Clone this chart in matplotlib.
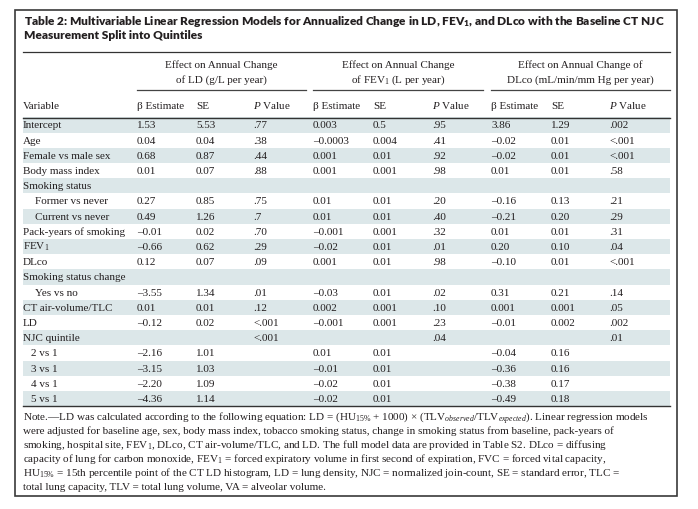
import matplotlib
matplotlib.use("Agg")
import matplotlib.pyplot as plt
from matplotlib.patches import Rectangle

plt.rcParams['mathtext.fontset'] = 'custom'
plt.rcParams['mathtext.rm'] = 'Liberation Serif'
plt.rcParams['mathtext.it'] = 'Liberation Serif:italic'
plt.rcParams['mathtext.bf'] = 'Liberation Serif:bold'
plt.rcParams['mathtext.sf'] = 'Lato:heavy'

# ---------------- data ----------------
title_lines = [r"Table 2: Multivariable Linear Regression Models for Annualized Change in LD, $\mathsf{FEV}_{\mathsf{1}}$, and DLco with the Baseline CT NJC",
               "Measurement Split into Quintiles"]

group_headers = [["Effect on Annual Change", "of LD (g/L per year)"],
                 ["Effect on Annual Change", r"of FEV$_1$ (L per year)"],
                 ["Effect on Annual Change of", "DLco (mL/min/mm Hg per year)"]]

col_headers = ["Variable", "β Estimate", "SE", r"$P$ Value",
               "β Estimate", "SE", r"$P$ Value",
               "β Estimate", "SE", r"$P$ Value"]

variables = ["Intercept", "Age", "Female vs male sex", "Body mass index",
             "Smoking status", "Former vs never", "Current vs never",
             "Pack-years of smoking", r"FEV$_1$", "DLco", "Smoking status change",
             "Yes vs no", "CT air-volume/TLC", "LD", "NJC quintile",
             "2 vs 1", "3 vs 1", "4 vs 1", "5 vs 1"]
indent = [0, 0, 0, 0, 0, 1, 1, 0, 0, 0, 0, 1, 0, 0, 0, 2, 2, 2, 2]

ld_beta = ["1.53", "0.04", "0.68", "0.01", "", "0.27", "0.49", "–0.01", "–0.66", "0.12", "",
           "–3.55", "0.01", "–0.12", "", "–2.16", "–3.15", "–2.20", "–4.36"]
ld_se = ["5.53", "0.04", "0.87", "0.07", "", "0.85", "1.26", "0.02", "0.62", "0.07", "",
         "1.34", "0.01", "0.02", "", "1.01", "1.03", "1.09", "1.14"]
ld_p = [".77", ".38", ".44", ".88", "", ".75", ".7", ".70", ".29", ".09", "",
        ".01", ".12", "<.001", "<.001", "", "", "", ""]

fev_beta = ["0.003", "–0.0003", "0.001", "0.001", "", "0.01", "0.01", "–0.001", "–0.02", "0.001", "",
            "–0.03", "0.002", "–0.001", "", "0.01", "–0.01", "–0.02", "–0.02"]
fev_se = ["0.5", "0.004", "0.01", "0.001", "", "0.01", "0.01", "0.001", "0.01", "0.01", "",
          "0.01", "0.001", "0.001", "", "0.01", "0.01", "0.01", "0.01"]
fev_p = [".95", ".41", ".92", ".98", "", ".20", ".40", ".32", ".01", ".98", "",
         ".02", ".10", ".23", ".04", "", "", "", ""]

dl_beta = ["3.86", "–0.02", "–0.02", "0.01", "", "–0.16", "–0.21", "0.01", "0.20", "–0.10", "",
           "0.31", "0.001", "–0.01", "", "–0.04", "–0.36", "–0.38", "–0.49"]
dl_se = ["1.29", "0.01", "0.01", "0.01", "", "0.13", "0.20", "0.01", "0.10", "0.01", "",
         "0.21", "0.001", "0.002", "", "0.16", "0.16", "0.17", "0.18"]
dl_p = [".002", "<.001", "<.001", ".58", "", ".21", ".29", ".31", ".04", "<.001", "",
        ".14", ".05", ".002", ".01", "", "", "", ""]

note_lines = [
    r"Note.—LD was calculated according to the following equation: LD = (HU$_{15\%}$ + 1000) × (TLV$_{\mathit{observed}}$/TLV$_{\mathit{expected}}$). Linear regression models",
    "were adjusted for baseline age, sex, body mass index, tobacco smoking status, change in smoking status from baseline, pack-years of",
    r"smoking, hospital site, FEV$_1$, DLco, CT air-volume/TLC, and LD. The full model data are provided in Table S2. DLco = diffusing",
    r"capacity of lung for carbon monoxide, FEV$_1$ = forced expiratory volume in first second of expiration, FVC = forced vital capacity,",
    r"HU$_{15\%}$ = 15th percentile point of the CT LD histogram, LD = lung density, NJC = normalized join-count, SE = standard error, TLC =",
    "total lung capacity, TLV = total lung volume, VA = alveolar volume.",
]

# ---------------- layout ----------------
W, H = 698, 509
fig = plt.figure(figsize=(W / 100, H / 100), dpi=100)
ax = fig.add_axes([0, 0, 1, 1])
ax.set_xlim(0, W)
ax.set_ylim(H, 0)
ax.axis("off")

TXT = "#231f20"
SHADE = "#dce7e9"
SERIF = "Liberation Serif"
FS = 8.0

# outer box
ax.add_patch(Rectangle((15, 9.5), 662, 486, fill=False, ec="#3a3a3a", lw=1.2))

# title
for i, t in enumerate(title_lines):
    ax.text(24, 25 + 14 * i, t, fontsize=8.6, family="Lato", weight="heavy",
            color=TXT, va="baseline", ha="left")
ax.plot([23, 670], [52, 52], color="#333333", lw=0.9)

# group headers
groups = [(137, 306), (313, 483), (491, 670)]
for (x0, x1), lines in zip(groups, group_headers):
    for j, t in enumerate(lines):
        ax.text((x0 + x1) / 2, 68 + 15 * j, t, fontsize=FS, family=SERIF,
                color=TXT, ha="center", va="baseline")
    ax.plot([x0, x1], [90, 90], color="#444444", lw=0.9)

col_x = [23, 137, 196, 253, 313, 373, 432, 491, 551, 609]
for x, t in zip(col_x, col_headers):
    ax.text(x, 108.5, t, fontsize=FS, family=SERIF, color=TXT, ha="left", va="baseline")
ax.plot([23, 670], [117.5, 117.5], color="#333333", lw=1.0)

row0, dy = 125.0, 15.2
ind_x = [23, 35, 31]
cols = [ld_beta, ld_se, ld_p, fev_beta, fev_se, fev_p, dl_beta, dl_se, dl_p]
for i, name in enumerate(variables):
    yc = row0 + dy * i
    if i % 2 == 0:
        ax.add_patch(Rectangle((23, yc - dy / 2), 647, dy, fc=SHADE, ec="none", zorder=0))
    ax.text(ind_x[indent[i]], yc + 3.3, name, fontsize=FS, family=SERIF,
            color=TXT, ha="left", va="baseline")
    for x, c in zip(col_x[1:], cols):
        if c[i]:
            ax.text(x, yc + 3.3, c[i], fontsize=FS, family=SERIF,
                    color=TXT, ha="left", va="baseline")
ybot = row0 + dy * (len(variables) - 0.5)
ax.plot([23, 670], [ybot, ybot], color="#333333", lw=1.0)

# notes
for k, t in enumerate(note_lines):
    ax.text(23, 420.5 + 14 * k, t, fontsize=FS, family=SERIF, color=TXT,
            ha="left", va="baseline")

fig.savefig("out.png", dpi=100, facecolor="white")
